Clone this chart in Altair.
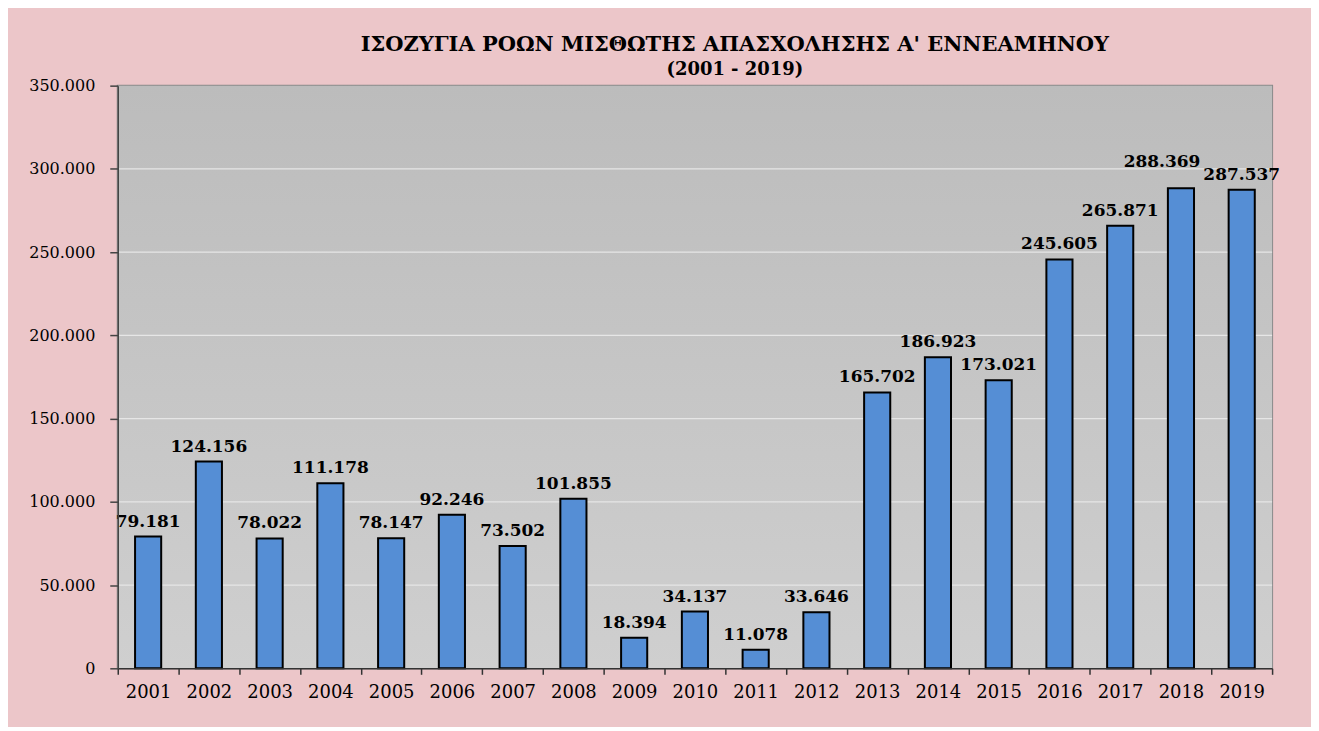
import altair as alt
import pandas as pd

years = [str(y) for y in range(2001, 2020)]
values = [79181, 124156, 78022, 111178, 78147, 92246, 73502, 101855, 18394,
          34137, 11078, 33646, 165702, 186923, 173021, 245605, 265871, 288369, 287537]
y_ticks = [0, 50000, 100000, 150000, 200000, 250000, 300000, 350000]
grid_values = [50000, 100000, 150000, 200000, 250000, 300000]
title_text = "ΙΣΟΖΥΓΙΑ ΡΟΩΝ ΜΙΣΘΩΤΗΣ ΑΠΑΣΧΟΛΗΣΗΣ Α' ΕΝΝΕΑΜΗΝΟΥ"
subtitle_text = "(2001 - 2019)"

df = pd.DataFrame({"year": years, "value": values})
grid_df = pd.DataFrame({"value": grid_values})

SERIF = "DejaVu Serif"
y_scale = alt.Scale(domain=[0, 350000], nice=False, zero=True)
x_scale = alt.Scale(paddingInner=0, paddingOuter=0)

y_axis = alt.Axis(values=y_ticks, labelExpr="replace(datum.label, ',', '.')",
                  labelFont=SERIF, labelFontSize=16, labelColor="#000000",
                  tickSize=8, labelPadding=15, domainColor="#444444",
                  domainWidth=1.5, tickColor="#444444", tickWidth=1.5,
                  grid=False, zindex=1)

bg = alt.Chart(alt.Data(values=[{}])).mark_rect(
    color=alt.Gradient(
        gradient="linear",
        stops=[alt.GradientStop(color="#bcbcbc", offset=0),
               alt.GradientStop(color="#cfcfcf", offset=1)],
        x1=0, x2=0, y1=0, y2=1,
    )
).encode(x=alt.value(0), x2=alt.value("width"), y=alt.value(0), y2=alt.value("height"))

grid = alt.Chart(grid_df).mark_rule(color="#e6e6e6", strokeWidth=1.2).encode(
    y=alt.Y("value:Q", scale=y_scale, title=None, axis=y_axis)
)

base = alt.Chart(df).transform_calculate(
    label="replace(format(datum.value, ','), ',', '.')"
)

bars = base.mark_bar(
    width=alt.RelativeBandSize(0.43), color="#558ed5", stroke="#000000", strokeWidth=2
).encode(
    x=alt.X("year:O", scale=x_scale, title=None,
            axis=alt.Axis(labelAngle=0, tickBand="extent", tickSize=6, ticks=True,
                          labelFont=SERIF, labelFontSize=18, labelColor="#000000",
                          labelPadding=9, domainColor="#333333", domainWidth=1.5,
                          tickColor="#333333", tickWidth=1.5, grid=False, zindex=1)),
    y=alt.Y("value:Q", scale=y_scale, title=None, axis=y_axis),
)

label_style = dict(font=SERIF, fontSize=17, fontWeight="bold", color="#000000",
                   baseline="alphabetic")

labels = base.transform_filter("datum.year != '2018'").mark_text(
    dy=-10, **label_style
).encode(
    x=alt.X("year:O", scale=x_scale),
    y=alt.Y("value:Q", scale=y_scale),
    text="label:N",
)

# the 2018 label sits up and to the left in the original, clear of 2019's
label_2018 = base.transform_filter("datum.year == '2018'").mark_text(
    dx=-19, dy=-21, **label_style
).encode(
    x=alt.X("year:O", scale=x_scale),
    y=alt.Y("value:Q", scale=y_scale),
    text="label:N",
)

chart = alt.layer(bg, grid, bars, labels, label_2018).properties(
    width=1157,
    height=584,
    background="#ecc6c9",
    padding={"left": 110, "top": 77, "right": 39, "bottom": 58},
    autosize=alt.AutoSizeParams(type="none"),
    title=alt.TitleParams(
        text=title_text, font=SERIF, fontSize=21, fontWeight="bold", color="#000000",
        subtitle=subtitle_text, subtitleFont=SERIF, subtitleFontSize=18,
        subtitleFontWeight="bold", subtitleColor="#000000", subtitlePadding=6,
        anchor="middle", frame="group", offset=-1, dx=40,
    ),
).configure_view(stroke="#8a8a8a", strokeWidth=2)

chart.save("out.html", embed_options={"renderer": "svg", "actions": False})
